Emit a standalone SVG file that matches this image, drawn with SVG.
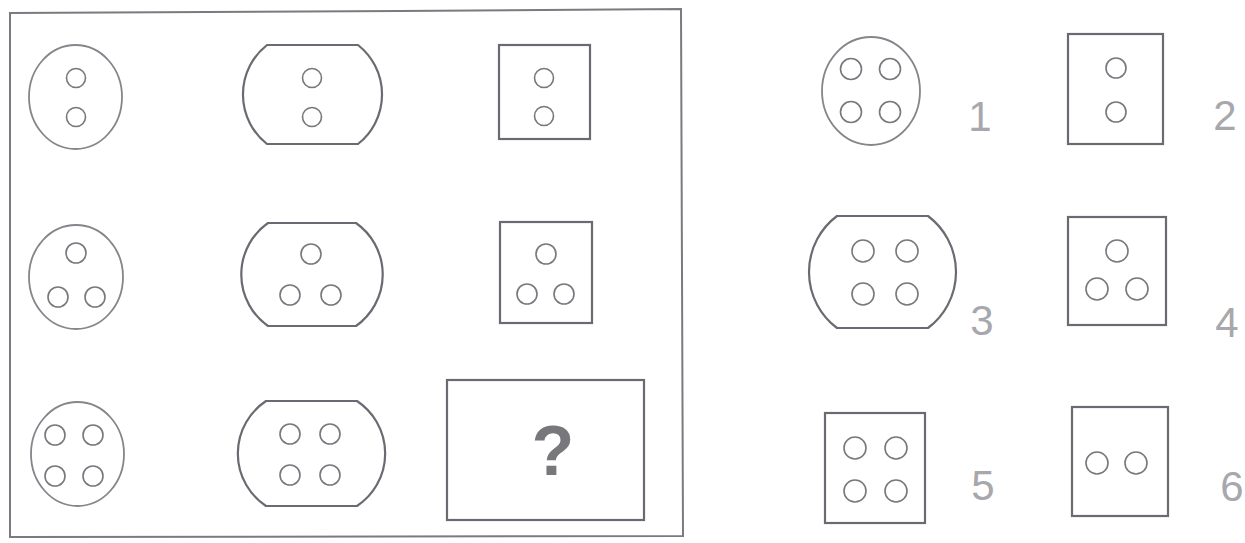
<svg xmlns="http://www.w3.org/2000/svg" width="1245" height="543" viewBox="0 0 1245 543">
<style>
.frame{fill:none;stroke:#7a7a80;stroke-width:2}
.shape{fill:none;stroke:#6a6a72;stroke-width:2.2}
.oval{fill:none;stroke:#85858b;stroke-width:1.8}
.hole{fill:none;stroke:#77777d;stroke-width:1.6}
.num{font-family:"Liberation Sans",Arial,sans-serif;font-size:42px;fill:#a8a8ac;text-anchor:middle}
.q{font-family:"Liberation Sans",Arial,sans-serif;font-size:70px;font-weight:bold;fill:#77777c;text-anchor:middle}
</style>
<rect width="1245" height="543" fill="#ffffff"/>
<g id="frame"><path class="frame" d="M10,13 L400,11 L681,9 L683,536 L10,537 Z"/></g>

<g id="r1c1"><ellipse class="oval" cx="75.5" cy="97" rx="46.5" ry="52"/>
<circle class="hole" cx="76" cy="78" r="9.5"/><circle class="hole" cx="76" cy="117" r="9.5"/></g>
<g id="r1c2"><path class="shape" d="M267,45 L358,45 A63,63 0 0 1 358,144 L267,144 A63,63 0 0 1 267,45 Z"/>
<circle class="hole" cx="312" cy="78" r="9.5"/><circle class="hole" cx="312" cy="117" r="9.5"/></g>
<g id="r1c3"><rect class="shape" x="499" y="45" width="91" height="94"/>
<circle class="hole" cx="544" cy="78" r="9.5"/><circle class="hole" cx="544" cy="116" r="9.5"/></g>

<g id="r2c1"><ellipse class="oval" cx="76" cy="277" rx="47" ry="52"/>
<circle class="hole" cx="76" cy="253" r="10"/><circle class="hole" cx="58" cy="297" r="10"/><circle class="hole" cx="95" cy="297" r="10"/></g>
<g id="r2c2"><path class="shape" d="M268,223 L356,223 A63,63 0 0 1 356,326 L268,326 A63,63 0 0 1 268,223 Z"/>
<circle class="hole" cx="311" cy="254" r="10"/><circle class="hole" cx="290" cy="295" r="10"/><circle class="hole" cx="331" cy="295" r="10"/></g>
<g id="r2c3"><rect class="shape" x="500" y="222" width="92" height="101"/>
<circle class="hole" cx="546" cy="254" r="10"/><circle class="hole" cx="527" cy="294" r="10"/><circle class="hole" cx="564" cy="294" r="10"/></g>

<g id="r3c1"><ellipse class="oval" cx="77.5" cy="454" rx="46.5" ry="52"/>
<circle class="hole" cx="55" cy="435" r="10"/><circle class="hole" cx="93" cy="435" r="10"/><circle class="hole" cx="55" cy="476" r="10"/><circle class="hole" cx="93" cy="476" r="10"/></g>
<g id="r3c2"><path class="shape" d="M266,401 L357,401 A63,63 0 0 1 357,506 L266,506 A63,63 0 0 1 266,401 Z"/>
<circle class="hole" cx="290" cy="434" r="10"/><circle class="hole" cx="330" cy="434" r="10"/><circle class="hole" cx="290" cy="475" r="10"/><circle class="hole" cx="330" cy="475" r="10"/></g>
<g id="r3c3"><rect class="shape" x="447" y="380" width="197" height="140"/>
<text class="q" x="553" y="475">?</text></g>

<g id="opt1"><ellipse class="oval" cx="871" cy="91" rx="49" ry="54"/>
<circle class="hole" cx="851" cy="69" r="10.5"/><circle class="hole" cx="890" cy="69" r="10.5"/><circle class="hole" cx="851" cy="112" r="10.5"/><circle class="hole" cx="890" cy="112" r="10.5"/>
<text class="num" x="980" y="131">1</text></g>
<g id="opt2"><rect class="shape" x="1068" y="34" width="95" height="110"/>
<circle class="hole" cx="1116" cy="68" r="10"/><circle class="hole" cx="1116" cy="112" r="10"/>
<text class="num" x="1225" y="130">2</text></g>
<g id="opt3"><path class="shape" d="M837,216 L928,216 A70,70 0 0 1 928,328 L837,328 A70,70 0 0 1 837,216 Z"/>
<circle class="hole" cx="863" cy="251" r="11"/><circle class="hole" cx="907" cy="251" r="11"/><circle class="hole" cx="863" cy="294" r="11"/><circle class="hole" cx="907" cy="294" r="11"/>
<text class="num" x="982" y="335">3</text></g>
<g id="opt4"><rect class="shape" x="1068" y="217" width="98" height="108"/>
<circle class="hole" cx="1117" cy="251" r="11"/><circle class="hole" cx="1097" cy="289" r="11"/><circle class="hole" cx="1137" cy="289" r="11"/>
<text class="num" x="1227" y="337">4</text></g>
<g id="opt5"><rect class="shape" x="825" y="413" width="100" height="110"/>
<circle class="hole" cx="855" cy="448" r="11"/><circle class="hole" cx="896" cy="448" r="11"/><circle class="hole" cx="855" cy="491" r="11"/><circle class="hole" cx="896" cy="491" r="11"/>
<text class="num" x="983" y="500">5</text></g>
<g id="opt6"><rect class="shape" x="1072" y="407" width="96" height="109"/>
<circle class="hole" cx="1097" cy="463" r="11"/><circle class="hole" cx="1136" cy="463" r="11"/>
<text class="num" x="1232" y="501">6</text></g>
<g id="connectors"></g>
</svg>
